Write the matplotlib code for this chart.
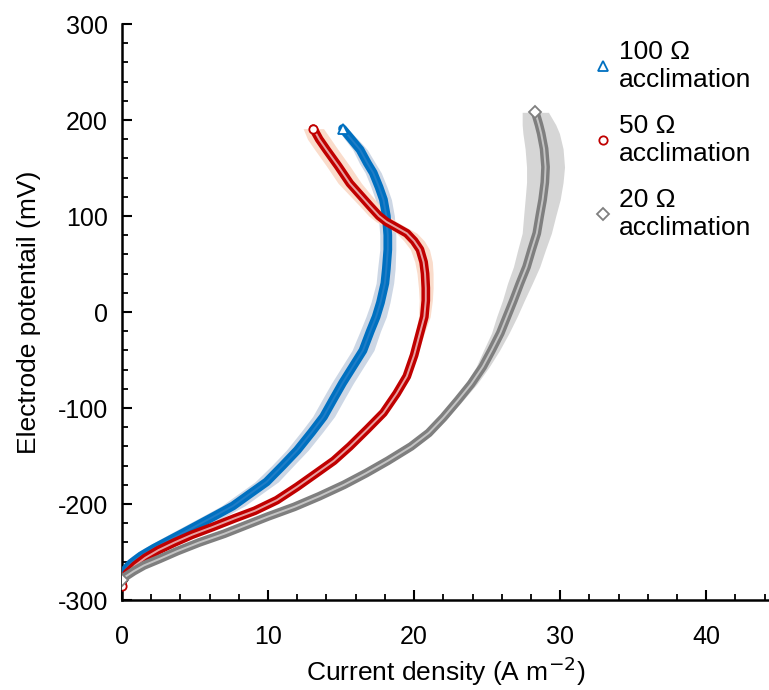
import matplotlib
matplotlib.use("Agg")
import numpy as np
import matplotlib.pyplot as plt
from matplotlib.ticker import MultipleLocator

# Potentials (mV) and current densities (A m-2)
y_100 = [191, 180, 169, 155, 145, 130, 117, 100, 80, 65, 45, 30, 10, -5, -20, -40, -57,
         -74, -90, -109, -125, -144, -160, -177, -190, -202, -212, -221, -230, -238,
         -246, -254, -262, -268, -274]
x_100 = [15.1, 15.7, 16.3, 16.8, 17.2, 17.6, 17.9, 18.1, 18.2, 18.2, 18.1, 18.0, 17.7,
         17.4, 17.0, 16.5, 15.8, 15.1, 14.5, 13.8, 13.0, 12.0, 11.0, 9.9, 8.7, 7.6, 6.4,
         5.3, 4.2, 3.2, 2.2, 1.3, 0.6, 0.25, 0.05]
err_100 = [0.35, 0.45, 0.5, 0.55, 0.55, 0.55, 0.55, 0.55, 0.55, 0.55, 0.6, 0.6, 0.65,
           0.7, 0.7, 0.75, 0.75, 0.75, 0.75, 0.75, 0.75, 0.75, 0.75, 0.8, 0.8, 0.8, 0.8,
           0.8, 0.8, 0.75, 0.7, 0.6, 0.5, 0.35, 0.2]

y_50 = [191, 180, 169, 152, 134, 122, 110, 100, 94, 88, 82, 74, 65, 52, 40, 25, 12, -5,
        -22, -45, -67, -85, -105, -122, -140, -155, -168, -182, -196, -207, -215, -224,
        -232, -240, -248, -256, -264, -272, -279, -285]
x_50 = [13.1, 13.5, 14.0, 14.8, 15.6, 16.3, 17.0, 17.6, 18.1, 18.8, 19.5, 20.0, 20.4,
        20.65, 20.75, 20.8, 20.8, 20.7, 20.4, 20.0, 19.5, 18.8, 17.9, 16.8, 15.6, 14.5,
        13.3, 12.0, 10.6, 9.1, 7.7, 6.2, 4.8, 3.6, 2.5, 1.6, 0.9, 0.35, 0.08, 0.0]
err_50 = [0.7, 0.8, 0.8, 0.8, 0.8, 0.75, 0.7, 0.7, 0.7, 0.7, 0.7, 0.7, 0.65, 0.6, 0.55,
          0.5, 0.45, 0.4, 0.3, 0.2, 0.15, 0.12, 0.1, 0.1, 0.1, 0.1, 0.1, 0.1, 0.1, 0.1,
          0.1, 0.1, 0.1, 0.1, 0.1, 0.1, 0.1, 0.1, 0.1, 0.1]

y_20 = [208, 195, 186, 170, 151, 135, 117, 100, 82, 65, 47, 30, 12, -5, -22, -40, -57,
        -75, -92, -110, -126, -140, -155, -168, -180, -192, -203, -213, -222, -231, -240,
        -249, -257, -264, -270, -276, -279]
x_20 = [28.3, 28.55, 28.7, 28.9, 29.0, 28.95, 28.8, 28.6, 28.4, 28.05, 27.7, 27.25, 26.8,
        26.35, 25.9, 25.3, 24.7, 23.9, 23.0, 22.0, 21.0, 19.8, 18.2, 16.7, 15.2, 13.5,
        11.8, 10.0, 8.5, 7.0, 5.3, 3.8, 2.6, 1.5, 0.8, 0.2, 0.0]
err_20 = [0.9, 1.15, 1.25, 1.3, 1.3, 1.25, 1.2, 1.1, 1.0, 0.95, 0.9, 0.85, 0.75, 0.7,
          0.6, 0.55, 0.45, 0.4, 0.35, 0.3, 0.25, 0.2, 0.15, 0.12, 0.1, 0.1, 0.1, 0.1,
          0.1, 0.1, 0.1, 0.1, 0.1, 0.1, 0.1, 0.1, 0.1]

series = [
    ("100 \u03a9\nacclimation", x_100, y_100, err_100, "#0070C0", "#1f7cc6", "#CDD7E5", "^", 6.5),
    ("50 \u03a9\nacclimation", x_50, y_50, err_50, "#C00000", "#e8a0a0", "#FADCCB", "o", 6),
    ("20 \u03a9\nacclimation", x_20, y_20, err_20, "#7F7F7F", "#c4c4c4", "#D6D6D6", "D", 6),
]

plt.rcParams["font.family"] = ["Liberation Sans", "DejaVu Sans"]
plt.rcParams["axes.unicode_minus"] = False

fig = plt.figure(figsize=(7.69, 6.90), dpi=100)
ax = fig.add_axes([122 / 769, 90 / 690, 647 / 769, 576 / 690])

# shaded spread around each mean curve
for label, x, y, err, c, inner, band, m, ms in series:
    x = np.array(x)
    e = np.array(err)
    ax.fill_betweenx(y, x - e, x + e, color=band, lw=0, zorder=1)

handles = []
for i, (label, x, y, err, c, inner, band, m, ms) in enumerate(series):
    z = 3 + i
    ax.plot(x, y, color=c, lw=6.3, solid_capstyle="round", solid_joinstyle="round", zorder=z)
    ax.plot(x, y, color=inner, lw=1.4, zorder=z)
    ax.plot([x[0], x[-1]], [y[0], y[-1]], ls="none", marker=m, ms=ms, mfc="white",
            mec=c, mew=1.3, zorder=z)
    h, = ax.plot([], [], ls="none", marker=m, ms=ms, mfc="white", mec=c, mew=1.3, label=label)
    handles.append(h)

ax.set_xlim(0, 44.3)
ax.set_ylim(-300, 300)
ax.xaxis.set_major_locator(MultipleLocator(10))
ax.xaxis.set_minor_locator(MultipleLocator(2))
ax.yaxis.set_major_locator(MultipleLocator(100))
ax.yaxis.set_minor_locator(MultipleLocator(20))

for s in ["top", "right"]:
    ax.spines[s].set_visible(False)
for s in ["left", "bottom"]:
    ax.spines[s].set_linewidth(1.8)
    ax.spines[s].set_color("black")

ax.tick_params(which="major", direction="in", length=7, width=1.5, labelsize=18)
ax.tick_params(which="minor", direction="in", length=4.5, width=1.3)
ax.tick_params(axis="x", which="major", pad=18)
ax.tick_params(axis="y", which="major", pad=10)

ax.set_xlabel("Current density (A m$^{\u22122}$)", fontsize=19, labelpad=4)
ax.set_ylabel("Electrode potentail (mV)", fontsize=19, labelpad=12)

ax.legend(handles=handles, loc="upper left", bbox_to_anchor=(0.703, 1.0), frameon=False,
          fontsize=19, handlelength=0.8, handletextpad=0.2, labelspacing=0.85,
          borderaxespad=0.2)

fig.savefig("out.png", dpi=100)
